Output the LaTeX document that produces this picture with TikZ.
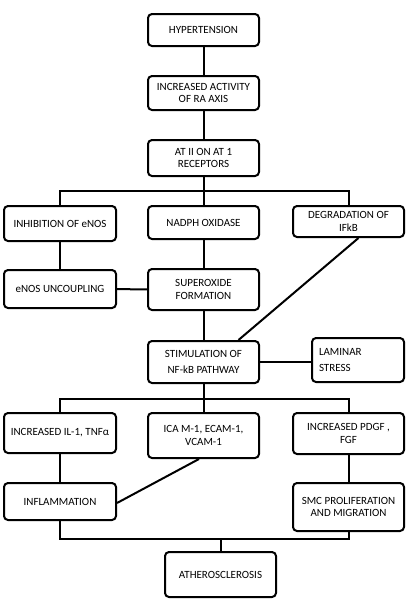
\documentclass[tikz,border=0pt]{standalone}
\usepackage{fontspec}
\setmainfont{Carlito}
\begin{document}
\begin{tikzpicture}[x=1pt,y=-1pt,
  box/.style={draw=black, line width=2pt, rounded corners=4pt, fill=white,
    align=center, inner sep=1pt, font=\fontsize{11}{12.5}\selectfont},
  conn/.style={draw=black, line width=2pt}]
\useasboundingbox[fill=white] (0,0) rectangle (408,611);
\node[box, minimum width=111pt, minimum height=32pt] (hyp) at (203.5,30) {HYPERTENSION};
\node[box, minimum width=111pt, minimum height=34pt] (ras) at (203.5,93) {INCREASED ACTIVITY\\OF RA AXIS};
\node[box, minimum width=111pt, minimum height=36pt] (at1) at (203.5,158) {AT II ON AT 1\\RECEPTORS};
\node[box, minimum width=112pt, minimum height=35pt] (inh) at (60,223.5) {INHIBITION OF eNOS};
\node[box, minimum width=111pt, minimum height=33pt] (nadph) at (203.5,222.5) {NADPH OXIDASE};
\node[box, minimum width=111pt, minimum height=31pt] (deg) at (348.5,221.5) {DEGRADATION OF\\IFkB};
\node[box, minimum width=112pt, minimum height=38pt] (unc) at (60,289) {eNOS UNCOUPLING};
\node[box, minimum width=111pt, minimum height=41pt] (sup) at (203.5,289.5) {SUPEROXIDE\\FORMATION};
\node[box, minimum width=111pt, minimum height=42pt, font=\fontsize{11}{16.5}\selectfont] (nfkb) at (203.5,362) {STIMULATION OF\\NF-kB PATHWAY};
\node[box, minimum width=92pt, minimum height=44pt, align=left, text width=78pt, font=\fontsize{11}{15.5}\selectfont] (lam) at (358,360) {LAMINAR\\STRESS};
\node[box, minimum width=112pt, minimum height=40pt] (il1) at (60,433) {INCREASED IL-1, TNFα};
\node[box, minimum width=111pt, minimum height=45pt] (icam) at (203.5,435.5) {ICA M-1, ECAM-1,\\VCAM-1};
\node[box, minimum width=111pt, minimum height=41pt] (pdgf) at (348.5,433.5) {INCREASED PDGF ,\\FGF};
\node[box, minimum width=112pt, minimum height=37pt] (infl) at (60,501.5) {INFLAMMATION};
\node[box, minimum width=111pt, minimum height=48pt] (smc) at (348.5,507) {SMC PROLIFERATION\\AND MIGRATION};
\node[box, minimum width=111pt, minimum height=45pt] (ath) at (220.5,574.5) {ATHEROSCLEROSIS};
\coordinate (b1) at (203.5,191);
\coordinate (b2) at (203.5,399);
\coordinate (b3) at (220.5,539);
\draw[conn] (hyp) -- (ras);
\draw[conn] (ras) -- (at1);
\draw[conn] (at1) -- (b1);
\draw[conn] (inh.north) |- (b1) -| (deg.north);
\draw[conn] (b1) -- (nadph.north);
\draw[conn] (inh) -- (unc);
\draw[conn] (unc) -- (sup);
\draw[conn] (nadph) -- (sup);
\draw[conn] (sup) -- (nfkb);
\draw[conn] ([xshift=10pt]deg.south) -- ([xshift=35pt]nfkb.north);
\draw[conn] (nfkb.east) -- (nfkb.east -| lam.west);
\draw[conn] (nfkb) -- (b2);
\draw[conn] (il1.north) |- (b2) -| (pdgf.north);
\draw[conn] (b2) -- (icam.north);
\draw[conn] (il1) -- (infl);
\draw[conn] (pdgf) -- (smc);
\draw[conn] ([xshift=-4.5pt]icam.south) -- ([yshift=-1.5pt]infl.east);
\draw[conn] (infl.south) |- (b3) -| (smc.south);
\draw[conn] (b3) -- (ath.north);
\end{tikzpicture}
\end{document}
